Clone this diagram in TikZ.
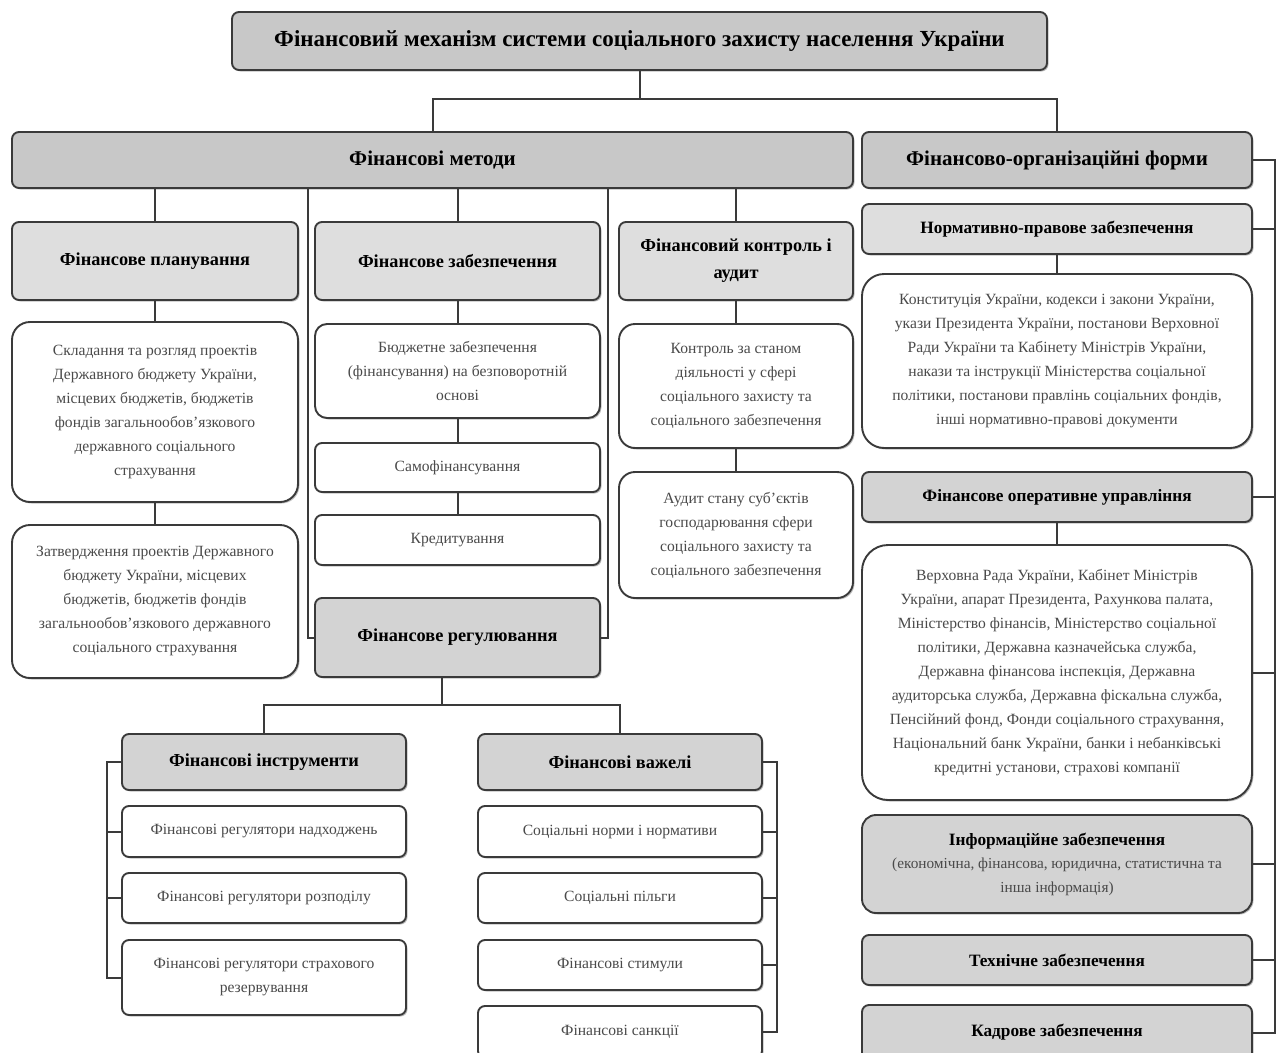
\documentclass[tikz,border=0pt]{standalone}
\usepackage{fontspec}
\setmainfont{Liberation Serif}
\usetikzlibrary{shadows,calc}
\definecolor{bord}{HTML}{3A3A3A}
\definecolor{gHdr}{HTML}{C8C8C8}
\definecolor{gMid}{HTML}{D3D3D3}
\definecolor{gLight}{HTML}{DEDEDE}
\definecolor{txtg}{HTML}{4A4A4A}
\newcommand\fttl{\fontsize{23}{26}\selectfont\bfseries}
\newcommand\fbig{\fontsize{21}{24}\selectfont\bfseries}
\newcommand\fmid{\fontsize{18.3}{27}\selectfont\bfseries}
\newcommand\fsub{\fontsize{17.3}{23}\selectfont\bfseries}
\newcommand\fitm{\fontsize{15.6}{24}\selectfont}
\newcommand\bx[7]{\node[#2, minimum width={#5-#3}, minimum height={#6-#4}] (#1) at ({(#3+#5)/2},{-(#4+#6)/2}) {#7};}
\tikzset{
  box/.style={draw=bord, line width=1.9pt, align=center, inner sep=0pt, rounded corners=7pt,
    drop shadow={shadow xshift=1.5pt, shadow yshift=-1.5pt, fill=black, opacity=0.25}},
  hdrbox/.style={box, fill=gHdr, text=black},
  midbox/.style={box, fill=gMid, text=black},
  lightbox/.style={box, fill=gLight, text=black},
  itembox/.style={box, fill=white, text=txtg, font=\fitm},
  conn/.style={draw=bord, line width=2pt}
}
\begin{document}
\begin{tikzpicture}[x=1pt,y=1pt]
\useasboundingbox (0,0) rectangle (1282,-1052);
% top
\bx{title}{hdrbox,font=\fttl}{232}{12}{1047}{70}{Фінансовий механізм системи соціального захисту населення України}
\bx{methods}{hdrbox,font=\fbig}{12}{132}{853}{188}{Фінансові методи}
\bx{forms}{hdrbox,font=\fbig}{862}{132}{1252}{188}{Фінансово-організаційні форми}
% methods
\bx{plan}{lightbox,font=\fmid}{12}{222}{298}{300}{Фінансове планування}
\bx{zab}{lightbox,font=\fmid}{315}{222}{600}{300}{Фінансове забезпечення}
\bx{ctrl}{lightbox,font=\fmid}{619}{222}{853}{300}{Фінансовий контроль і\\аудит}
\bx{p1}{itembox,rounded corners=18pt}{12}{322}{298}{502}{Складання та розгляд проектів\\Державного бюджету України,\\місцевих бюджетів, бюджетів\\фондів загальнообов'язкового\\державного соціального\\страхування}
\bx{p2}{itembox,rounded corners=18pt}{12}{525}{298}{678}{Затвердження проектів Державного\\бюджету України, місцевих\\бюджетів, бюджетів фондів\\загальнообов'язкового державного\\соціального страхування}
\bx{z1}{itembox,rounded corners=12pt}{315}{324}{600}{418}{Бюджетне забезпечення\\(фінансування) на безповоротній\\основі}
\bx{z2}{itembox}{315}{443}{600}{492}{Самофінансування}
\bx{z3}{itembox}{315}{515}{600}{565}{Кредитування}
\bx{reg}{midbox,font=\fmid}{315}{598}{600}{677}{Фінансове регулювання}
\bx{c1}{itembox,rounded corners=16pt}{619}{324}{853}{448}{Контроль за станом\\діяльності у сфері\\соціального захисту та\\соціального забезпечення}
\bx{c2}{itembox,rounded corners=16pt}{619}{472}{853}{598}{Аудит стану суб'єктів\\господарювання сфери\\соціального захисту та\\соціального забезпечення}
% forms column
\bx{norm}{lightbox,font=\fsub}{862}{204}{1252}{254}{Нормативно-правове забезпечення}
\bx{n1}{itembox,rounded corners=22pt}{862}{274}{1252}{448}{Конституція України, кодекси і закони України,\\укази Президента України, постанови Верховної\\Ради України та Кабінету Міністрів України,\\накази та інструкції Міністерства соціальної\\політики, постанови правлінь соціальних фондів,\\інші нормативно-правові документи}
\bx{oper}{midbox,font=\fsub}{862}{472}{1252}{522}{Фінансове оперативне управління}
\bx{o1}{itembox,rounded corners=26pt}{862}{545}{1252}{800}{Верховна Рада України, Кабінет Міністрів\\України, апарат Президента, Рахункова палата,\\Міністерство фінансів, Міністерство соціальної\\політики, Державна казначейська служба,\\Державна фінансова інспекція, Державна\\аудиторська служба, Державна фіскальна служба,\\Пенсійний фонд, Фонди соціального страхування,\\Національний банк України, банки і небанківські\\кредитні установи, страхові компанії}
\bx{info}{midbox,rounded corners=14pt,text=txtg,font=\fontsize{15.3}{23.5}\selectfont}{862}{815}{1252}{913}{{\fsub\color{black}Інформаційне забезпечення}\\(економічна, фінансова, юридична, статистична та\\інша інформація)}
\bx{tech}{midbox,font=\fsub}{862}{935}{1252}{985}{Технічне забезпечення}
\bx{kadr}{midbox,font=\fsub}{862}{1005}{1252}{1060}{Кадрове забезпечення}
% regulation children
\bx{instr}{midbox,font=\fmid}{122}{734}{406}{790}{Фінансові інструменти}
\bx{i1}{itembox}{122}{806}{406}{857}{Фінансові регулятори надходжень}
\bx{i2}{itembox}{122}{873}{406}{923}{Фінансові регулятори розподілу}
\bx{i3}{itembox}{122}{940}{406}{1015}{Фінансові регулятори страхового\\резервування}
\bx{lev}{midbox,font=\fmid}{478}{734}{762}{790}{Фінансові важелі}
\bx{v1}{itembox}{478}{806}{762}{857}{Соціальні норми і нормативи}
\bx{v2}{itembox}{478}{873}{762}{923}{Соціальні пільги}
\bx{v3}{itembox}{478}{940}{762}{990}{Фінансові стимули}
\bx{v4}{itembox}{478}{1006}{762}{1058}{Фінансові санкції}
% connectors
\coordinate (j1) at ($(title.south)+(0,-28)$);
\draw[conn] (title.south) -- (j1);
\draw[conn] (methods.north) |- (j1) -| (forms.north);
\foreach \nm in {plan,zab,ctrl} \draw[conn] (\nm.north) -- (\nm.north |- methods.south);
\coordinate (xl) at (308,0);
\coordinate (xr) at (608,0);
\draw[conn] (methods.south -| xl) |- (reg.west);
\draw[conn] (methods.south -| xr) |- (reg.east);
\draw[conn] (plan.south) -- (p1.north);
\draw[conn] (p1.south) -- (p2.north);
\draw[conn] (zab.south) -- (z1.north);
\draw[conn] (z1.south) -- (z2.north);
\draw[conn] (z2.south) -- (z3.north);
\draw[conn] (ctrl.south) -- (c1.north);
\draw[conn] (c1.south) -- (c2.north);
\draw[conn] (norm.south) -- (n1.north);
\draw[conn] (oper.south) -- (o1.north);
\coordinate (rb) at (1275,0);
\draw[conn] (forms.east) -- (forms.east -| rb) -- (kadr.east -| rb) -- (kadr.east);
\foreach \nm in {norm,oper,o1,info,tech} \draw[conn] (\nm.east) -- (\nm.east -| rb);
\coordinate (j2) at (442,-705);
\draw[conn] (reg.south -| j2) -- (j2);
\draw[conn] (instr.north) |- (j2) -| (lev.north);
\coordinate (lb) at (107,0);
\draw[conn] (instr.west) -- (instr.west -| lb) -- (i3.west -| lb) -- (i3.west);
\foreach \nm in {i1,i2} \draw[conn] (\nm.west) -- (\nm.west -| lb);
\coordinate (rb2) at (777,0);
\draw[conn] (lev.east) -- (lev.east -| rb2) -- (v4.east -| rb2) -- (v4.east);
\foreach \nm in {v1,v2,v3} \draw[conn] (\nm.east) -- (\nm.east -| rb2);
\end{tikzpicture}
\end{document}
